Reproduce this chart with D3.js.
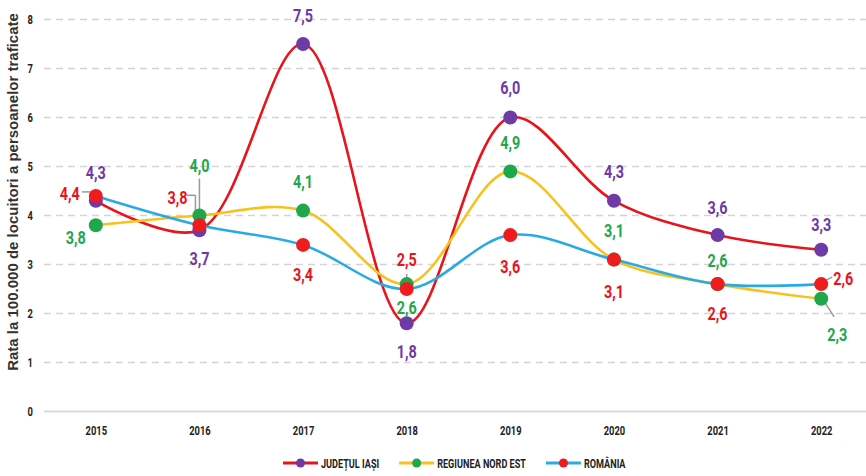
<!DOCTYPE html>
<html>
<head>
<meta charset="utf-8">
<script src="https://cdn.jsdelivr.net/npm/d3@7"></script>
<style>
  body { margin: 0; background: #fff; }
  svg { display: block; }
  .narrow { font-family: Roboto, "Liberation Sans", sans-serif; font-weight: bold; }
</style>
</head>
<body>
<div id="chart"></div>
<script>
// data
const years = ['2015', '2016', '2017', '2018', '2019', '2020', '2021', '2022']
const iasi = [4.3, 3.7, 7.5, 1.8, 6.0, 4.3, 3.6, 3.3]
const nordEst = [3.8, 4.0, 4.1, 2.6, 4.9, 3.1, 2.6, 2.3]
const romania = [4.4, 3.8, 3.4, 2.5, 3.6, 3.1, 2.6, 2.6]
const seriesNames = ['JUDEȚUL IAȘI', 'REGIUNEA NORD EST', 'ROMÂNIA']
const yTicks = [0, 1, 2, 3, 4, 5, 6, 7, 8]

// label placement for each point: [dx, dy] from the dot
const iasiLab = [[0, -28], [0, 28], [0, -28], [0, 28], [0, -30], [0, -29], [0, -28], [0, -25]]
const nordLab = [[-20, 12], [0, -50], [0, -29], [0, 23], [0, -29], [0, -29], [0, -24], [16, 36]]
const romLab = [[-26, -2], [-22, -28], [0, 30], [0, -29], [0, 31], [0, 32], [0, 29], [22, -6]]

const width = 866
const height = 476

const svg = d3.select('#chart')
  .append('svg')
  .attr('width', width)
  .attr('height', height)

// squeeze text horizontally to look like a condensed face
function condense(sel, f) {
  sel.each(function () {
    const w = this.getComputedTextLength()
    d3.select(this).attr('textLength', w * f).attr('lengthAdjust', 'spacingAndGlyphs')
  })
}

const x = d3.scalePoint()
  .domain(years)
  .range([44, 873])
  .padding(0.5)

const y = d3.scaleLinear()
  .domain([0, 8])
  .range([411.5, 19.5])

// grid lines
svg.append('g')
  .selectAll('line')
  .data(yTicks)
  .enter()
  .append('line')
  .attr('x1', 44)
  .attr('x2', width)
  .attr('y1', d => y(d))
  .attr('y2', d => y(d))
  .attr('stroke', d => d === 0 ? '#d9d9d9' : '#d4d4d4')
  .attr('stroke-width', d => d === 0 ? 2 : 1.6)
  .attr('stroke-dasharray', d => d === 0 ? null : '7,5')

// y axis labels
const yAxis = svg.append('g')
  .attr('class', 'narrow')
  .attr('transform', 'translate(33,0)')
  .call(d3.axisLeft(y).tickValues(yTicks).tickSize(0).tickPadding(0))
yAxis.select('.domain').remove()
yAxis.selectAll('text')
  .attr('font-size', 13)
  .attr('font-family', null)
  .attr('fill', '#222')
  .call(condense, 0.72)

// x axis labels
const xAxis = svg.append('g')
  .attr('class', 'narrow')
  .attr('transform', 'translate(0,426)')
  .call(d3.axisBottom(x).tickSize(0).tickPadding(0))
xAxis.select('.domain').remove()
xAxis.selectAll('text')
  .attr('font-size', 13)
  .attr('font-family', null)
  .attr('fill', '#222')
  .call(condense, 0.72)

// axis title
svg.append('text')
  .attr('transform', 'translate(18,192) rotate(-90)')
  .attr('text-anchor', 'middle')
  .attr('font-family', 'Liberation Sans, Arial, sans-serif')
  .attr('font-weight', 'bold')
  .attr('font-size', 15)
  .attr('fill', '#333')
  .text('Rata la 100.000 de locuitori a persoanelor traficate')

const series = [
  { name: seriesNames[0], values: iasi, line: '#e8141c', dot: '#6e3aa6', text: '#6e3aa6', lab: iasiLab },
  { name: seriesNames[1], values: nordEst, line: '#f7c21b', dot: '#1ea74b', text: '#1ea74b', lab: nordLab },
  { name: seriesNames[2], values: romania, line: '#2aaae2', dot: '#ee1c1c', text: '#e8141c', lab: romLab }
]

const line = d3.line()
  .x((d, i) => x(years[i]))
  .y(d => y(d))
  .curve(d3.curveCatmullRom.alpha(0.5))

// lines
svg.append('g')
  .selectAll('path')
  .data(series)
  .enter()
  .append('path')
  .attr('d', d => line(d.values))
  .attr('fill', 'none')
  .attr('stroke', d => d.line)
  .attr('stroke-width', 2.6)

// leader lines (gray)
const leaders = [
  [x('2015') - 14, y(4.4) - 4, x('2015') - 5, y(4.4) - 4],
  [x('2016') - 13, y(3.8) - 30, x('2016') - 4, y(3.8) - 30],
  [x('2016') - 4, y(3.8) - 30, x('2016') - 4, y(3.8) - 6],
  [x('2016'), y(4.0) - 37, x('2016'), y(4.0) - 2],
  [x('2018'), y(2.5) - 15, x('2018'), y(2.5) - 6],
  [x('2022') + 3, y(2.6) - 3, x('2022') + 11, y(2.6) - 7],
  [x('2022') + 4, y(2.3) + 4, x('2022') + 13, y(2.3) + 18]
]
svg.append('g')
  .selectAll('line')
  .data(leaders)
  .enter()
  .append('line')
  .attr('x1', d => d[0])
  .attr('y1', d => d[1])
  .attr('x2', d => d[2])
  .attr('y2', d => d[3])
  .attr('stroke', '#999')
  .attr('stroke-width', 1.5)

// dots
series.forEach(s => {
  svg.append('g')
    .selectAll('circle')
    .data(s.values)
    .enter()
    .append('circle')
    .attr('cx', (d, i) => x(years[i]))
    .attr('cy', d => y(d))
    .attr('r', 7)
    .attr('fill', s.dot)
})

// data labels
series.forEach(s => {
  svg.append('g')
    .attr('class', 'narrow')
    .selectAll('text')
    .data(s.values)
    .enter()
    .append('text')
    .attr('x', (d, i) => x(years[i]) + s.lab[i][0])
    .attr('y', (d, i) => y(d) + s.lab[i][1])
    .attr('dy', '0.36em')
    .attr('text-anchor', 'middle')
    .attr('font-size', 18)
    .attr('fill', s.text)
    .text(d => d.toFixed(1).replace('.', ','))
    .call(condense, 0.8)
})

// legend, laid out left to right
const legend = svg.append('g')
  .attr('class', 'narrow')
let lx = 283
series.forEach(s => {
  const g = legend.append('g')
    .attr('transform', `translate(${lx},463)`)
  g.append('line')
    .attr('x1', 0)
    .attr('x2', 35)
    .attr('stroke', s.line)
    .attr('stroke-width', 3)
  g.append('circle')
    .attr('cx', 17.5)
    .attr('r', 4.5)
    .attr('fill', s.dot)
  const t = g.append('text')
    .attr('x', 38)
    .attr('dy', '0.36em')
    .attr('font-size', 13)
    .attr('fill', '#222')
    .text(s.name)
  const w = t.node().getComputedTextLength() * 0.7
  t.attr('textLength', w).attr('lengthAdjust', 'spacingAndGlyphs')
  lx += 38 + w + 20
})
</script>
</body>
</html>
